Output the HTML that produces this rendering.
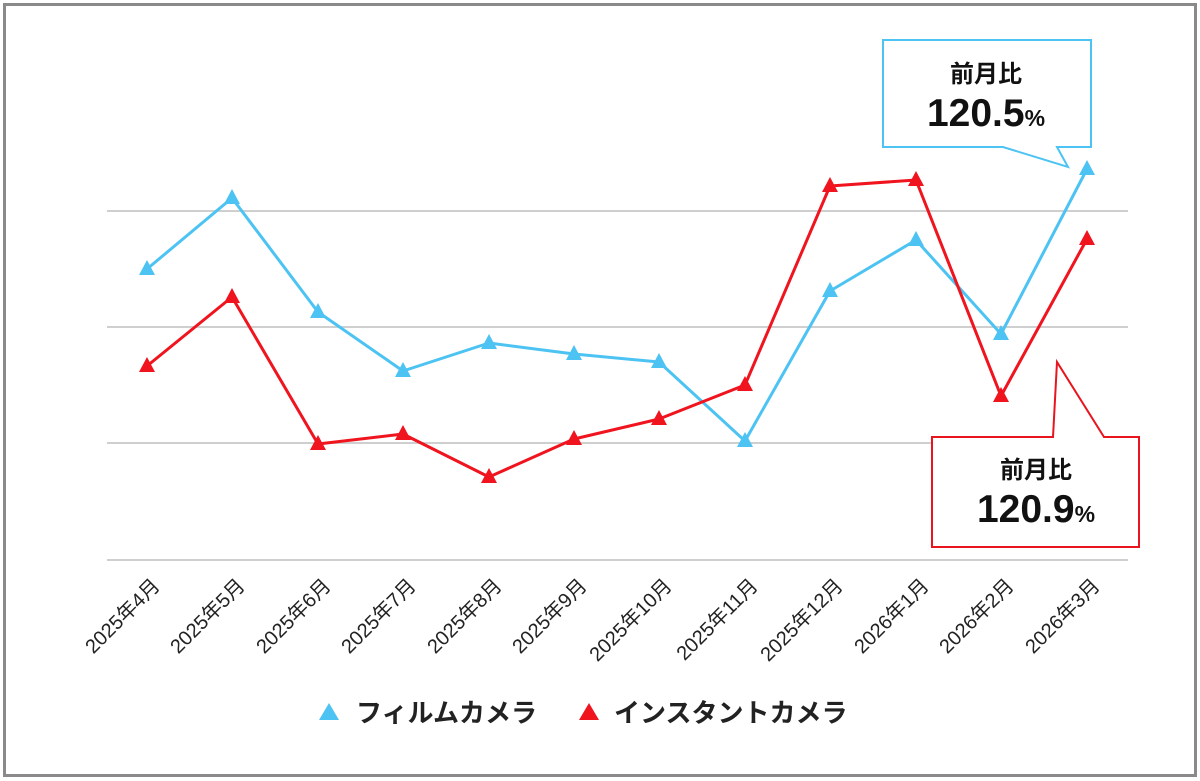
<!DOCTYPE html>
<html><head><meta charset="utf-8"><style>
body{margin:0;background:#fff}
svg{display:block}
text{font-family:"Liberation Sans","Noto Sans CJK JP",sans-serif}
</style></head><body>
<svg width="1200" height="781" viewBox="0 0 1200 781" xmlns="http://www.w3.org/2000/svg">
<rect x="0" y="0" width="1200" height="781" fill="#fff"/>
<rect x="4.5" y="4.5" width="1191" height="771" fill="none" stroke="#8a8a8a" stroke-width="3"/>
<g stroke="#cfcfcf" stroke-width="2">
<line x1="107" y1="211" x2="1128" y2="211"/>
<line x1="107" y1="327" x2="1128" y2="327"/>
<line x1="107" y1="443" x2="1128" y2="443"/>
<line x1="107" y1="560" x2="1128" y2="560"/>
</g>
<defs>
<path id="tri" d="M0,-9 L8,6 L-8,6 Z"/>
</defs>
<polyline fill="none" stroke="#4cc3f2" stroke-width="3" stroke-linejoin="round" points="147,269 232,198 318,312 403,371 489,343 574,354 659,362 745,441 830,291 916,240 1001,334 1087,169"/>
<g fill="#4cc3f2">
<use href="#tri" x="147" y="269"/><use href="#tri" x="232" y="198"/><use href="#tri" x="318" y="312"/><use href="#tri" x="403" y="371"/><use href="#tri" x="489" y="343"/><use href="#tri" x="574" y="354"/><use href="#tri" x="659" y="362"/><use href="#tri" x="745" y="441"/><use href="#tri" x="830" y="291"/><use href="#tri" x="916" y="240"/><use href="#tri" x="1001" y="334"/><use href="#tri" x="1087" y="169"/>
</g>
<polyline fill="none" stroke="#f0141e" stroke-width="3" stroke-linejoin="round" points="147,366 232,297 318,444 403,434 489,477 574,439 659,419 745,385 830,186 916,180 1001,396 1087,239"/>
<g fill="#f0141e">
<use href="#tri" x="147" y="366"/><use href="#tri" x="232" y="297"/><use href="#tri" x="318" y="444"/><use href="#tri" x="403" y="434"/><use href="#tri" x="489" y="477"/><use href="#tri" x="574" y="439"/><use href="#tri" x="659" y="419"/><use href="#tri" x="745" y="385"/><use href="#tri" x="830" y="186"/><use href="#tri" x="916" y="180"/><use href="#tri" x="1001" y="396"/><use href="#tri" x="1087" y="239"/>
</g>
<!-- callouts -->
<path d="M883,40 H1091 V147 H1057 L1068,167 L1003,147 H883 Z" fill="#fff" stroke="#4cc3f2" stroke-width="2"/>
<text x="986" y="82" font-size="24" font-weight="bold" text-anchor="middle" fill="#111">前月比</text>
<text x="986" y="126" font-size="39" font-weight="bold" text-anchor="middle" fill="#111">120.5<tspan font-size="23">%</tspan></text>
<path d="M932,437 H1053 L1057,362 L1104,437 H1139 V547 H932 Z" fill="#fff" stroke="#e8141e" stroke-width="2"/>
<text x="1036" y="478" font-size="24" font-weight="bold" text-anchor="middle" fill="#111">前月比</text>
<text x="1036" y="522" font-size="39" font-weight="bold" text-anchor="middle" fill="#111">120.9<tspan font-size="23">%</tspan></text>
<!-- x labels -->
<g font-size="20" fill="#222" text-anchor="end">
<text transform="translate(161,587) rotate(-45)">2025年4月</text>
<text transform="translate(246,587) rotate(-45)">2025年5月</text>
<text transform="translate(332,587) rotate(-45)">2025年6月</text>
<text transform="translate(417,587) rotate(-45)">2025年7月</text>
<text transform="translate(503,587) rotate(-45)">2025年8月</text>
<text transform="translate(588,587) rotate(-45)">2025年9月</text>
<text transform="translate(673,587) rotate(-45)">2025年10月</text>
<text transform="translate(759,587) rotate(-45)">2025年11月</text>
<text transform="translate(844,587) rotate(-45)">2025年12月</text>
<text transform="translate(930,587) rotate(-45)">2026年1月</text>
<text transform="translate(1015,587) rotate(-45)">2026年2月</text>
<text transform="translate(1101,587) rotate(-45)">2026年3月</text>
</g>
<!-- legend -->
<path d="M329,703 L339,720 L319,720 Z" fill="#4cc3f2"/>
<text x="356" y="722" font-size="26" font-weight="bold" fill="#222">フィルムカメラ</text>
<path d="M589,703 L599,720 L579,720 Z" fill="#f0141e"/>
<text x="614" y="722" font-size="26" font-weight="bold" fill="#222">インスタントカメラ</text>
</svg>
</body></html>
